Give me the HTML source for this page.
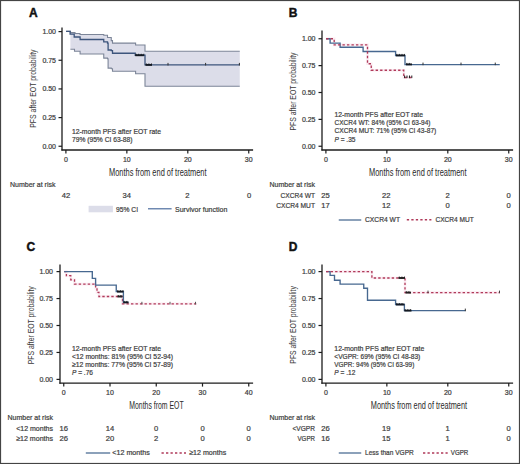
<!DOCTYPE html>
<html><head><meta charset="utf-8"><style>
html,body{margin:0;padding:0;background:#fff;width:520px;height:464px;overflow:hidden}
svg{display:block;font-family:"Liberation Sans", sans-serif}
text.t{stroke:#444;stroke-width:0.22px}
</style></head><body>
<svg width="520" height="464" viewBox="0 0 520 464">
<rect x="0" y="0" width="520" height="464" fill="#fff"/>
<text x="29.00" y="17.40" font-size="12.00" font-weight="bold" fill="#111" stroke="#111" stroke-width="0.45">A</text>
<path d="M70.40 32.60 L70.50 31.40 L70.50 32.60 L75.00 32.60 L75.00 33.50 L80.00 33.50 L80.00 34.50 L103.75 34.50 L103.75 35.20 L107.50 35.20 L107.50 37.50 L111.25 37.50 L111.25 40.60 L112.50 40.60 L112.50 43.10 L135.60 43.10 L135.60 45.00 L145.00 45.00 L145.00 51.25 L239.75 51.25 L239.75 86.25 L145.00 86.25 L145.00 73.75 L135.60 73.75 L135.60 71.25 L112.50 71.25 L112.50 68.75 L111.25 68.75 L111.25 68.10 L108.10 68.10 L108.10 58.75 L107.50 58.75 L107.50 58.10 L103.75 58.10 L103.75 54.00 L80.10 54.00 L80.10 51.30 L74.50 51.30 L74.50 49.20 L70.40 49.20 Z" fill="#dcdde9" stroke="none"/>
<path d="M66.10 31.40 L70.50 31.40 L70.50 32.60 L75.00 32.60 L75.00 33.50 L80.00 33.50 L80.00 34.50 L103.75 34.50 L103.75 35.20 L107.50 35.20 L107.50 37.50 L111.25 37.50 L111.25 40.60 L112.50 40.60 L112.50 43.10 L135.60 43.10 L135.60 45.00 L145.00 45.00 L145.00 51.25 L239.75 51.25" fill="none" stroke="#7c8598" stroke-width="1.1"/>
<path d="M70.40 49.20 L74.50 49.20 L74.50 51.30 L80.10 51.30 L80.10 54.00 L103.75 54.00 L103.75 58.10 L107.50 58.10 L107.50 58.75 L108.10 58.75 L108.10 68.10 L111.25 68.10 L111.25 68.75 L112.50 68.75 L112.50 71.25 L135.60 71.25 L135.60 73.75 L145.00 73.75 L145.00 86.25 L239.75 86.25" fill="none" stroke="#7c8598" stroke-width="1.1"/>
<path d="M66.10 31.40 L70.10 31.40 L70.10 34.20 L74.20 34.20 L74.20 37.00 L80.10 37.00 L80.10 39.50 L103.75 39.50 L103.75 41.90 L107.50 41.90 L107.50 43.10 L108.10 43.10 L108.10 50.00 L111.25 50.00 L111.25 50.60 L112.50 50.60 L112.50 53.25 L135.25 53.25 L135.25 55.25 L145.00 55.25 L145.00 64.90 L239.75 64.90" fill="none" stroke="#3d557c" stroke-width="1.3"/>
<line x1="135.25" y1="55.25" x2="143.90" y2="55.25" stroke="#151a22" stroke-width="1.9"/>
<line x1="136.05" y1="53.75" x2="136.05" y2="55.25" stroke="#151a22" stroke-width="0.8"/>
<line x1="138.65" y1="53.75" x2="138.65" y2="55.25" stroke="#151a22" stroke-width="0.8"/>
<line x1="141.25" y1="53.75" x2="141.25" y2="55.25" stroke="#151a22" stroke-width="0.8"/>
<line x1="143.85" y1="53.75" x2="143.85" y2="55.25" stroke="#151a22" stroke-width="0.8"/>
<line x1="145.50" y1="64.90" x2="152.00" y2="64.90" stroke="#151a22" stroke-width="1.9"/>
<line x1="146.30" y1="63.40" x2="146.30" y2="64.90" stroke="#151a22" stroke-width="0.8"/>
<line x1="148.90" y1="63.40" x2="148.90" y2="64.90" stroke="#151a22" stroke-width="0.8"/>
<line x1="151.50" y1="63.40" x2="151.50" y2="64.90" stroke="#151a22" stroke-width="0.8"/>
<line x1="168.00" y1="62.90" x2="168.00" y2="65.50" stroke="#333" stroke-width="1"/>
<line x1="205.60" y1="62.90" x2="205.60" y2="65.50" stroke="#333" stroke-width="1"/>
<line x1="239.40" y1="62.90" x2="239.40" y2="65.50" stroke="#333" stroke-width="1"/>
<line x1="62.00" y1="27.50" x2="62.00" y2="150.60" stroke="#1c1c1c" stroke-width="1.3"/>
<line x1="61.40" y1="150.00" x2="253.10" y2="150.00" stroke="#1c1c1c" stroke-width="1.3"/>
<line x1="58.50" y1="31.60" x2="62.00" y2="31.60" stroke="#1c1c1c" stroke-width="1.2"/>
<text class="t" x="56.00" y="34.10" font-size="7.00" text-anchor="end" fill="#3a3a3a">1.00</text>
<line x1="58.50" y1="60.26" x2="62.00" y2="60.26" stroke="#1c1c1c" stroke-width="1.2"/>
<text class="t" x="56.00" y="62.76" font-size="7.00" text-anchor="end" fill="#3a3a3a">0.75</text>
<line x1="58.50" y1="88.93" x2="62.00" y2="88.93" stroke="#1c1c1c" stroke-width="1.2"/>
<text class="t" x="56.00" y="91.43" font-size="7.00" text-anchor="end" fill="#3a3a3a">0.50</text>
<line x1="58.50" y1="117.59" x2="62.00" y2="117.59" stroke="#1c1c1c" stroke-width="1.2"/>
<text class="t" x="56.00" y="120.09" font-size="7.00" text-anchor="end" fill="#3a3a3a">0.25</text>
<line x1="58.50" y1="146.25" x2="62.00" y2="146.25" stroke="#1c1c1c" stroke-width="1.2"/>
<text class="t" x="56.00" y="148.75" font-size="7.00" text-anchor="end" fill="#3a3a3a">0.00</text>
<line x1="65.90" y1="150.00" x2="65.90" y2="153.50" stroke="#1c1c1c" stroke-width="1.2"/>
<text class="t" x="65.90" y="161.80" font-size="7.00" text-anchor="middle" fill="#3a3a3a">0</text>
<line x1="126.85" y1="150.00" x2="126.85" y2="153.50" stroke="#1c1c1c" stroke-width="1.2"/>
<text class="t" x="126.85" y="161.80" font-size="7.00" text-anchor="middle" fill="#3a3a3a">10</text>
<line x1="187.80" y1="150.00" x2="187.80" y2="153.50" stroke="#1c1c1c" stroke-width="1.2"/>
<text class="t" x="187.80" y="161.80" font-size="7.00" text-anchor="middle" fill="#3a3a3a">20</text>
<line x1="248.75" y1="150.00" x2="248.75" y2="153.50" stroke="#1c1c1c" stroke-width="1.2"/>
<text class="t" x="248.75" y="161.80" font-size="7.00" text-anchor="middle" fill="#3a3a3a">30</text>
<text transform="translate(32.80 88.60) rotate(-90)" x="0" y="0" font-size="9.8" text-anchor="middle" fill="#3a3a3a" textLength="78.3" lengthAdjust="spacingAndGlyphs" dominant-baseline="central">PFS after EOT probability</text>
<text class="t" x="157.75" y="176.20" font-size="10.00" text-anchor="middle" textLength="97.5" lengthAdjust="spacingAndGlyphs" fill="#2a2a2a" style="stroke:none">Months from end of treatment</text>
<text class="t" x="72.00" y="133.50" font-size="7.60" textLength="89.0" lengthAdjust="spacingAndGlyphs" fill="#3a3a3a">12-month PFS after EOT rate</text>
<text class="t" x="72.00" y="141.80" font-size="7.60" textLength="60.5" lengthAdjust="spacingAndGlyphs" fill="#3a3a3a">79% (95% CI 63-88)</text>
<text class="t" x="10.00" y="186.80" font-size="7.60" textLength="45.5" lengthAdjust="spacingAndGlyphs" fill="#3a3a3a">Number at risk</text>
<text class="t" x="66.00" y="197.50" font-size="7.60" text-anchor="middle" fill="#3a3a3a">42</text>
<text class="t" x="126.70" y="197.50" font-size="7.60" text-anchor="middle" fill="#3a3a3a">34</text>
<text class="t" x="187.30" y="197.50" font-size="7.60" text-anchor="middle" fill="#3a3a3a">2</text>
<text class="t" x="249.00" y="197.50" font-size="7.60" text-anchor="middle" fill="#3a3a3a">0</text>
<rect x="88.6" y="205.8" width="24.3" height="6.5" fill="#dcdde9"/>
<text class="t" x="116.00" y="211.70" font-size="7.60" textLength="22.0" lengthAdjust="spacingAndGlyphs" fill="#3a3a3a">95% CI</text>
<line x1="148" y1="208.8" x2="171.6" y2="208.8" stroke="#45679a" stroke-width="1.15"/>
<text class="t" x="175.00" y="211.50" font-size="7.60" textLength="52.3" lengthAdjust="spacingAndGlyphs" fill="#3a3a3a">Survivor function</text>
<text x="288.75" y="17.40" font-size="12.00" font-weight="bold" fill="#111" stroke="#111" stroke-width="0.45">B</text>
<path d="M326.10 38.75 L334.20 38.75 L334.20 44.90 L367.50 44.90 L367.50 63.75 L371.25 63.75 L371.25 70.25 L403.75 70.25 L403.75 77.50 L412.00 77.50" fill="none" stroke="#fbecf2" stroke-width="2.6"/>
<path d="M326.10 38.75 L330.10 38.75 L330.10 43.10 L340.10 43.10 L340.10 47.25 L363.10 47.25 L363.10 51.50 L395.60 51.50 L395.60 55.60 L405.00 55.60 L405.00 64.60 L499.75 64.60" fill="none" stroke="#476890" stroke-width="1.35"/>
<path d="M326.10 38.75 L334.20 38.75 L334.20 44.90 L367.50 44.90 L367.50 63.75 L371.25 63.75 L371.25 70.25 L403.75 70.25 L403.75 77.50 L412.00 77.50" fill="none" stroke="#b03a5a" stroke-width="1.3" stroke-dasharray="2.4 2.1"/>
<line x1="396.00" y1="55.40" x2="405.00" y2="55.40" stroke="#151a22" stroke-width="1.9"/>
<line x1="396.80" y1="53.90" x2="396.80" y2="55.40" stroke="#151a22" stroke-width="0.8"/>
<line x1="399.40" y1="53.90" x2="399.40" y2="55.40" stroke="#151a22" stroke-width="0.8"/>
<line x1="402.00" y1="53.90" x2="402.00" y2="55.40" stroke="#151a22" stroke-width="0.8"/>
<line x1="404.60" y1="53.90" x2="404.60" y2="55.40" stroke="#151a22" stroke-width="0.8"/>
<line x1="406.00" y1="64.40" x2="412.00" y2="64.40" stroke="#151a22" stroke-width="1.9"/>
<line x1="406.80" y1="62.90" x2="406.80" y2="64.40" stroke="#151a22" stroke-width="0.8"/>
<line x1="409.40" y1="62.90" x2="409.40" y2="64.40" stroke="#151a22" stroke-width="0.8"/>
<line x1="423.00" y1="62.60" x2="423.00" y2="65.20" stroke="#333" stroke-width="1"/>
<line x1="461.00" y1="62.60" x2="461.00" y2="65.20" stroke="#333" stroke-width="1"/>
<line x1="495.25" y1="62.60" x2="495.25" y2="65.20" stroke="#333" stroke-width="1"/>
<line x1="404.60" y1="75.50" x2="404.60" y2="78.10" stroke="#222" stroke-width="1"/>
<line x1="407.00" y1="75.50" x2="407.00" y2="78.10" stroke="#222" stroke-width="1"/>
<line x1="409.50" y1="75.50" x2="409.50" y2="78.10" stroke="#222" stroke-width="1"/>
<line x1="411.80" y1="75.50" x2="411.80" y2="78.10" stroke="#222" stroke-width="1"/>
<line x1="322.00" y1="30.60" x2="322.00" y2="150.60" stroke="#1c1c1c" stroke-width="1.3"/>
<line x1="321.40" y1="150.00" x2="513.10" y2="150.00" stroke="#1c1c1c" stroke-width="1.3"/>
<line x1="318.50" y1="38.75" x2="322.00" y2="38.75" stroke="#1c1c1c" stroke-width="1.2"/>
<text class="t" x="315.50" y="41.25" font-size="7.00" text-anchor="end" fill="#3a3a3a">1.00</text>
<line x1="318.50" y1="65.62" x2="322.00" y2="65.62" stroke="#1c1c1c" stroke-width="1.2"/>
<text class="t" x="315.50" y="68.12" font-size="7.00" text-anchor="end" fill="#3a3a3a">0.75</text>
<line x1="318.50" y1="92.50" x2="322.00" y2="92.50" stroke="#1c1c1c" stroke-width="1.2"/>
<text class="t" x="315.50" y="95.00" font-size="7.00" text-anchor="end" fill="#3a3a3a">0.50</text>
<line x1="318.50" y1="119.38" x2="322.00" y2="119.38" stroke="#1c1c1c" stroke-width="1.2"/>
<text class="t" x="315.50" y="121.88" font-size="7.00" text-anchor="end" fill="#3a3a3a">0.25</text>
<line x1="318.50" y1="146.25" x2="322.00" y2="146.25" stroke="#1c1c1c" stroke-width="1.2"/>
<text class="t" x="315.50" y="148.75" font-size="7.00" text-anchor="end" fill="#3a3a3a">0.00</text>
<line x1="325.90" y1="150.00" x2="325.90" y2="153.50" stroke="#1c1c1c" stroke-width="1.2"/>
<text class="t" x="325.90" y="161.80" font-size="7.00" text-anchor="middle" fill="#3a3a3a">0</text>
<line x1="386.85" y1="150.00" x2="386.85" y2="153.50" stroke="#1c1c1c" stroke-width="1.2"/>
<text class="t" x="386.85" y="161.80" font-size="7.00" text-anchor="middle" fill="#3a3a3a">10</text>
<line x1="447.80" y1="150.00" x2="447.80" y2="153.50" stroke="#1c1c1c" stroke-width="1.2"/>
<text class="t" x="447.80" y="161.80" font-size="7.00" text-anchor="middle" fill="#3a3a3a">20</text>
<line x1="508.75" y1="150.00" x2="508.75" y2="153.50" stroke="#1c1c1c" stroke-width="1.2"/>
<text class="t" x="508.75" y="161.80" font-size="7.00" text-anchor="middle" fill="#3a3a3a">30</text>
<text transform="translate(292.80 91.50) rotate(-90)" x="0" y="0" font-size="9.8" text-anchor="middle" fill="#3a3a3a" textLength="78.0" lengthAdjust="spacingAndGlyphs" dominant-baseline="central">PFS after EOT probability</text>
<text class="t" x="417.75" y="176.20" font-size="10.00" text-anchor="middle" textLength="97.5" lengthAdjust="spacingAndGlyphs" fill="#2a2a2a" style="stroke:none">Months from end of treatment</text>
<text class="t" x="334.50" y="116.90" font-size="7.60" textLength="88.5" lengthAdjust="spacingAndGlyphs" fill="#3a3a3a">12-month PFS after EOT rate</text>
<text class="t" x="334.50" y="125.00" font-size="7.60" textLength="96.0" lengthAdjust="spacingAndGlyphs" fill="#3a3a3a">CXCR4 WT: 84% (95% CI 63-94)</text>
<text class="t" x="334.50" y="133.40" font-size="7.60" textLength="101.8" lengthAdjust="spacingAndGlyphs" fill="#3a3a3a">CXCR4 MUT: 71% (95% CI 43-87)</text>
<text class="t" x="334.5" y="141.7" font-size="7.6" fill="#3a3a3a" textLength="21" lengthAdjust="spacingAndGlyphs"><tspan font-style="italic">P</tspan> = .35</text>
<text class="t" x="269.50" y="187.00" font-size="7.60" textLength="45.5" lengthAdjust="spacingAndGlyphs" fill="#3a3a3a">Number at risk</text>
<text class="t" x="315.00" y="197.50" font-size="7.60" text-anchor="end" textLength="34.5" lengthAdjust="spacingAndGlyphs" fill="#3a3a3a">CXCR4 WT</text>
<text class="t" x="315.00" y="208.30" font-size="7.60" text-anchor="end" textLength="38.8" lengthAdjust="spacingAndGlyphs" fill="#3a3a3a">CXCR4 MUT</text>
<text class="t" x="325.50" y="197.50" font-size="7.60" text-anchor="middle" fill="#3a3a3a">25</text>
<text class="t" x="386.20" y="197.50" font-size="7.60" text-anchor="middle" fill="#3a3a3a">22</text>
<text class="t" x="447.70" y="197.50" font-size="7.60" text-anchor="middle" fill="#3a3a3a">2</text>
<text class="t" x="508.60" y="197.50" font-size="7.60" text-anchor="middle" fill="#3a3a3a">0</text>
<text class="t" x="325.50" y="208.30" font-size="7.60" text-anchor="middle" fill="#3a3a3a">17</text>
<text class="t" x="386.20" y="208.30" font-size="7.60" text-anchor="middle" fill="#3a3a3a">12</text>
<text class="t" x="447.70" y="208.30" font-size="7.60" text-anchor="middle" fill="#3a3a3a">0</text>
<text class="t" x="508.60" y="208.30" font-size="7.60" text-anchor="middle" fill="#3a3a3a">0</text>
<line x1="338.75" y1="220" x2="361.25" y2="220" stroke="#476890" stroke-width="1.25"/>
<text class="t" x="365.00" y="222.10" font-size="7.60" textLength="35.0" lengthAdjust="spacingAndGlyphs" fill="#3a3a3a">CXCR4 WT</text>
<line x1="406.8" y1="219.7" x2="431.4" y2="219.7" stroke="#b03a5a" stroke-width="1.4" stroke-dasharray="2.3 2.2"/>
<text class="t" x="435.40" y="222.10" font-size="7.60" textLength="38.4" lengthAdjust="spacingAndGlyphs" fill="#3a3a3a">CXCR4 MUT</text>
<text x="26.60" y="250.60" font-size="12.00" font-weight="bold" fill="#111" stroke="#111" stroke-width="0.45">C</text>
<path d="M64.20 271.60 L66.40 271.60 L66.40 275.70 L70.75 275.70 L70.75 279.80 L74.50 279.80 L74.50 284.10 L95.60 284.10 L95.60 288.20 L97.00 288.20 L97.00 292.40 L98.90 292.40 L98.90 296.50 L122.50 296.50 L122.50 303.80 L196.25 303.80" fill="none" stroke="#fbecf2" stroke-width="2.6"/>
<path d="M64.20 271.60 L66.40 271.60 L66.40 275.70 L70.75 275.70 L70.75 279.80 L74.50 279.80 L74.50 284.10 L95.60 284.10 L95.60 288.20 L97.00 288.20 L97.00 292.40 L98.90 292.40 L98.90 296.50 L122.50 296.50 L122.50 303.80 L196.25 303.80" fill="none" stroke="#b03a5a" stroke-width="1.3" stroke-dasharray="2.4 2.1"/>
<path d="M64.20 271.60 L92.30 271.60 L92.30 278.30 L95.60 278.30 L95.60 285.10 L116.25 285.10 L116.25 291.60 L123.40 291.60 L123.40 302.40 L128.50 302.40" fill="none" stroke="#476890" stroke-width="1.35"/>
<line x1="117.00" y1="291.60" x2="123.40" y2="291.60" stroke="#151a22" stroke-width="1.9"/>
<line x1="117.80" y1="290.10" x2="117.80" y2="291.60" stroke="#151a22" stroke-width="0.8"/>
<line x1="120.40" y1="290.10" x2="120.40" y2="291.60" stroke="#151a22" stroke-width="0.8"/>
<line x1="123.00" y1="290.10" x2="123.00" y2="291.60" stroke="#151a22" stroke-width="0.8"/>
<line x1="117.50" y1="296.50" x2="122.50" y2="296.50" stroke="#222" stroke-width="1.9"/>
<line x1="118.30" y1="295.00" x2="118.30" y2="296.50" stroke="#222" stroke-width="0.8"/>
<line x1="120.90" y1="295.00" x2="120.90" y2="296.50" stroke="#222" stroke-width="0.8"/>
<line x1="123.40" y1="302.40" x2="128.50" y2="302.40" stroke="#151a22" stroke-width="1.9"/>
<line x1="124.20" y1="300.90" x2="124.20" y2="302.40" stroke="#151a22" stroke-width="0.8"/>
<line x1="126.80" y1="300.90" x2="126.80" y2="302.40" stroke="#151a22" stroke-width="0.8"/>
<line x1="141.90" y1="301.80" x2="141.90" y2="304.40" stroke="#555" stroke-width="1"/>
<line x1="170.00" y1="301.80" x2="170.00" y2="304.40" stroke="#555" stroke-width="1"/>
<line x1="195.50" y1="301.80" x2="195.50" y2="304.40" stroke="#555" stroke-width="1"/>
<line x1="60.00" y1="264.40" x2="60.00" y2="383.70" stroke="#1c1c1c" stroke-width="1.3"/>
<line x1="59.40" y1="383.10" x2="253.10" y2="383.10" stroke="#1c1c1c" stroke-width="1.3"/>
<line x1="56.50" y1="271.60" x2="60.00" y2="271.60" stroke="#1c1c1c" stroke-width="1.2"/>
<text class="t" x="53.00" y="274.10" font-size="7.00" text-anchor="end" fill="#3a3a3a">1.00</text>
<line x1="56.50" y1="298.55" x2="60.00" y2="298.55" stroke="#1c1c1c" stroke-width="1.2"/>
<text class="t" x="53.00" y="301.05" font-size="7.00" text-anchor="end" fill="#3a3a3a">0.75</text>
<line x1="56.50" y1="325.50" x2="60.00" y2="325.50" stroke="#1c1c1c" stroke-width="1.2"/>
<text class="t" x="53.00" y="328.00" font-size="7.00" text-anchor="end" fill="#3a3a3a">0.50</text>
<line x1="56.50" y1="352.45" x2="60.00" y2="352.45" stroke="#1c1c1c" stroke-width="1.2"/>
<text class="t" x="53.00" y="354.95" font-size="7.00" text-anchor="end" fill="#3a3a3a">0.25</text>
<line x1="56.50" y1="379.40" x2="60.00" y2="379.40" stroke="#1c1c1c" stroke-width="1.2"/>
<text class="t" x="53.00" y="381.90" font-size="7.00" text-anchor="end" fill="#3a3a3a">0.00</text>
<line x1="63.75" y1="383.10" x2="63.75" y2="386.60" stroke="#1c1c1c" stroke-width="1.2"/>
<text class="t" x="63.75" y="394.90" font-size="7.00" text-anchor="middle" fill="#3a3a3a">0</text>
<line x1="110.00" y1="383.10" x2="110.00" y2="386.60" stroke="#1c1c1c" stroke-width="1.2"/>
<text class="t" x="110.00" y="394.90" font-size="7.00" text-anchor="middle" fill="#3a3a3a">10</text>
<line x1="156.25" y1="383.10" x2="156.25" y2="386.60" stroke="#1c1c1c" stroke-width="1.2"/>
<text class="t" x="156.25" y="394.90" font-size="7.00" text-anchor="middle" fill="#3a3a3a">20</text>
<line x1="202.50" y1="383.10" x2="202.50" y2="386.60" stroke="#1c1c1c" stroke-width="1.2"/>
<text class="t" x="202.50" y="394.90" font-size="7.00" text-anchor="middle" fill="#3a3a3a">30</text>
<line x1="248.75" y1="383.10" x2="248.75" y2="386.60" stroke="#1c1c1c" stroke-width="1.2"/>
<text class="t" x="248.75" y="394.90" font-size="7.00" text-anchor="middle" fill="#3a3a3a">40</text>
<text transform="translate(30.40 325.20) rotate(-90)" x="0" y="0" font-size="9.8" text-anchor="middle" fill="#3a3a3a" textLength="78.0" lengthAdjust="spacingAndGlyphs" dominant-baseline="central">PFS after EOT probability</text>
<text class="t" x="156.45" y="408.90" font-size="10.00" text-anchor="middle" textLength="54.5" lengthAdjust="spacingAndGlyphs" fill="#2a2a2a" style="stroke:none">Months from EOT</text>
<text class="t" x="72.00" y="350.50" font-size="7.60" textLength="89.0" lengthAdjust="spacingAndGlyphs" fill="#3a3a3a">12-month PFS after EOT rate</text>
<text class="t" x="72.00" y="358.80" font-size="7.60" textLength="101.0" lengthAdjust="spacingAndGlyphs" fill="#3a3a3a">&lt;12 months: 81% (95% CI 52-94)</text>
<text class="t" x="72.00" y="367.00" font-size="7.60" textLength="101.0" lengthAdjust="spacingAndGlyphs" fill="#3a3a3a">&#8805;12 months: 77% (95% CI 57-89)</text>
<text class="t" x="72" y="374.7" font-size="7.6" fill="#3a3a3a" textLength="21" lengthAdjust="spacingAndGlyphs"><tspan font-style="italic">P</tspan> = .76</text>
<text class="t" x="7.50" y="420.00" font-size="7.60" textLength="45.5" lengthAdjust="spacingAndGlyphs" fill="#3a3a3a">Number at risk</text>
<text class="t" x="53.00" y="430.50" font-size="7.60" text-anchor="end" textLength="36.8" lengthAdjust="spacingAndGlyphs" fill="#3a3a3a">&lt;12 months</text>
<text class="t" x="53.00" y="441.20" font-size="7.60" text-anchor="end" textLength="36.8" lengthAdjust="spacingAndGlyphs" fill="#3a3a3a">&#8805;12 months</text>
<text class="t" x="63.75" y="430.50" font-size="7.60" text-anchor="middle" fill="#3a3a3a">16</text>
<text class="t" x="110.00" y="430.50" font-size="7.60" text-anchor="middle" fill="#3a3a3a">14</text>
<text class="t" x="156.00" y="430.50" font-size="7.60" text-anchor="middle" fill="#3a3a3a">0</text>
<text class="t" x="202.50" y="430.50" font-size="7.60" text-anchor="middle" fill="#3a3a3a">0</text>
<text class="t" x="248.60" y="430.50" font-size="7.60" text-anchor="middle" fill="#3a3a3a">0</text>
<text class="t" x="63.75" y="441.20" font-size="7.60" text-anchor="middle" fill="#3a3a3a">26</text>
<text class="t" x="110.00" y="441.20" font-size="7.60" text-anchor="middle" fill="#3a3a3a">20</text>
<text class="t" x="156.00" y="441.20" font-size="7.60" text-anchor="middle" fill="#3a3a3a">2</text>
<text class="t" x="202.50" y="441.20" font-size="7.60" text-anchor="middle" fill="#3a3a3a">0</text>
<text class="t" x="248.60" y="441.20" font-size="7.60" text-anchor="middle" fill="#3a3a3a">0</text>
<line x1="85.8" y1="453" x2="110.2" y2="453" stroke="#476890" stroke-width="1.25"/>
<text class="t" x="112.30" y="455.00" font-size="7.60" textLength="37.5" lengthAdjust="spacingAndGlyphs" fill="#3a3a3a">&lt;12 months</text>
<line x1="161.5" y1="453" x2="186" y2="453" stroke="#b03a5a" stroke-width="1.4" stroke-dasharray="2.3 2.2"/>
<text class="t" x="189.20" y="455.00" font-size="7.60" textLength="37.0" lengthAdjust="spacingAndGlyphs" fill="#3a3a3a">&#8805;12 months</text>
<text x="288.75" y="250.60" font-size="12.00" font-weight="bold" fill="#111" stroke="#111" stroke-width="0.45">D</text>
<path d="M326.10 271.60 L371.90 271.60 L371.90 278.00 L405.00 278.00 L405.00 292.60 L499.75 292.60" fill="none" stroke="#fbecf2" stroke-width="2.6"/>
<path d="M326.10 271.60 L330.10 271.60 L330.10 275.40 L334.50 275.40 L334.50 280.25 L340.10 280.25 L340.10 284.10 L363.75 284.10 L363.75 288.20 L367.50 288.20 L367.50 300.20 L395.60 300.20 L395.60 304.50 L404.40 304.50 L404.40 310.60 L465.60 310.60" fill="none" stroke="#476890" stroke-width="1.35"/>
<path d="M326.10 271.60 L371.90 271.60 L371.90 278.00 L405.00 278.00 L405.00 292.60 L499.75 292.60" fill="none" stroke="#b03a5a" stroke-width="1.3" stroke-dasharray="2.4 2.1"/>
<line x1="396.00" y1="304.50" x2="404.40" y2="304.50" stroke="#151a22" stroke-width="1.9"/>
<line x1="396.80" y1="303.00" x2="396.80" y2="304.50" stroke="#151a22" stroke-width="0.8"/>
<line x1="399.40" y1="303.00" x2="399.40" y2="304.50" stroke="#151a22" stroke-width="0.8"/>
<line x1="402.00" y1="303.00" x2="402.00" y2="304.50" stroke="#151a22" stroke-width="0.8"/>
<line x1="404.40" y1="310.60" x2="411.50" y2="310.60" stroke="#151a22" stroke-width="1.9"/>
<line x1="405.20" y1="309.10" x2="405.20" y2="310.60" stroke="#151a22" stroke-width="0.8"/>
<line x1="407.80" y1="309.10" x2="407.80" y2="310.60" stroke="#151a22" stroke-width="0.8"/>
<line x1="410.40" y1="309.10" x2="410.40" y2="310.60" stroke="#151a22" stroke-width="0.8"/>
<line x1="465.30" y1="308.60" x2="465.30" y2="311.20" stroke="#333" stroke-width="1"/>
<line x1="398.50" y1="278.00" x2="405.00" y2="278.00" stroke="#222" stroke-width="1.9"/>
<line x1="399.30" y1="276.50" x2="399.30" y2="278.00" stroke="#222" stroke-width="0.8"/>
<line x1="401.90" y1="276.50" x2="401.90" y2="278.00" stroke="#222" stroke-width="0.8"/>
<line x1="404.50" y1="276.50" x2="404.50" y2="278.00" stroke="#222" stroke-width="0.8"/>
<line x1="405.50" y1="292.60" x2="411.00" y2="292.60" stroke="#222" stroke-width="1.9"/>
<line x1="406.30" y1="291.10" x2="406.30" y2="292.60" stroke="#222" stroke-width="0.8"/>
<line x1="408.90" y1="291.10" x2="408.90" y2="292.60" stroke="#222" stroke-width="0.8"/>
<line x1="428.00" y1="290.60" x2="428.00" y2="293.20" stroke="#444" stroke-width="1"/>
<line x1="499.50" y1="290.60" x2="499.50" y2="293.20" stroke="#444" stroke-width="1"/>
<line x1="322.00" y1="264.40" x2="322.00" y2="383.70" stroke="#1c1c1c" stroke-width="1.3"/>
<line x1="321.40" y1="383.10" x2="513.10" y2="383.10" stroke="#1c1c1c" stroke-width="1.3"/>
<line x1="318.50" y1="271.60" x2="322.00" y2="271.60" stroke="#1c1c1c" stroke-width="1.2"/>
<text class="t" x="315.50" y="274.10" font-size="7.00" text-anchor="end" fill="#3a3a3a">1.00</text>
<line x1="318.50" y1="298.55" x2="322.00" y2="298.55" stroke="#1c1c1c" stroke-width="1.2"/>
<text class="t" x="315.50" y="301.05" font-size="7.00" text-anchor="end" fill="#3a3a3a">0.75</text>
<line x1="318.50" y1="325.50" x2="322.00" y2="325.50" stroke="#1c1c1c" stroke-width="1.2"/>
<text class="t" x="315.50" y="328.00" font-size="7.00" text-anchor="end" fill="#3a3a3a">0.50</text>
<line x1="318.50" y1="352.45" x2="322.00" y2="352.45" stroke="#1c1c1c" stroke-width="1.2"/>
<text class="t" x="315.50" y="354.95" font-size="7.00" text-anchor="end" fill="#3a3a3a">0.25</text>
<line x1="318.50" y1="379.40" x2="322.00" y2="379.40" stroke="#1c1c1c" stroke-width="1.2"/>
<text class="t" x="315.50" y="381.90" font-size="7.00" text-anchor="end" fill="#3a3a3a">0.00</text>
<line x1="325.90" y1="383.10" x2="325.90" y2="386.60" stroke="#1c1c1c" stroke-width="1.2"/>
<text class="t" x="325.90" y="394.90" font-size="7.00" text-anchor="middle" fill="#3a3a3a">0</text>
<line x1="386.85" y1="383.10" x2="386.85" y2="386.60" stroke="#1c1c1c" stroke-width="1.2"/>
<text class="t" x="386.85" y="394.90" font-size="7.00" text-anchor="middle" fill="#3a3a3a">10</text>
<line x1="447.80" y1="383.10" x2="447.80" y2="386.60" stroke="#1c1c1c" stroke-width="1.2"/>
<text class="t" x="447.80" y="394.90" font-size="7.00" text-anchor="middle" fill="#3a3a3a">20</text>
<line x1="508.75" y1="383.10" x2="508.75" y2="386.60" stroke="#1c1c1c" stroke-width="1.2"/>
<text class="t" x="508.75" y="394.90" font-size="7.00" text-anchor="middle" fill="#3a3a3a">30</text>
<text transform="translate(292.80 324.90) rotate(-90)" x="0" y="0" font-size="9.8" text-anchor="middle" fill="#3a3a3a" textLength="77.5" lengthAdjust="spacingAndGlyphs" dominant-baseline="central">PFS after EOT probability</text>
<text class="t" x="418.90" y="408.90" font-size="10.00" text-anchor="middle" textLength="96.2" lengthAdjust="spacingAndGlyphs" fill="#2a2a2a" style="stroke:none">Months from end of treatment</text>
<text class="t" x="334.30" y="350.50" font-size="7.60" textLength="90.0" lengthAdjust="spacingAndGlyphs" fill="#3a3a3a">12-month PFS after EOT rate</text>
<text class="t" x="334.30" y="358.80" font-size="7.60" textLength="86.0" lengthAdjust="spacingAndGlyphs" fill="#3a3a3a">&lt;VGPR: 69% (95% CI 48-83)</text>
<text class="t" x="334.30" y="367.00" font-size="7.60" textLength="80.0" lengthAdjust="spacingAndGlyphs" fill="#3a3a3a">VGPR: 94% (95% CI 63-99)</text>
<text class="t" x="334.3" y="374.9" font-size="7.6" fill="#3a3a3a" textLength="21" lengthAdjust="spacingAndGlyphs"><tspan font-style="italic">P</tspan> = .12</text>
<text class="t" x="269.50" y="420.00" font-size="7.60" textLength="45.5" lengthAdjust="spacingAndGlyphs" fill="#3a3a3a">Number at risk</text>
<text class="t" x="315.00" y="430.50" font-size="7.60" text-anchor="end" textLength="22.5" lengthAdjust="spacingAndGlyphs" fill="#3a3a3a">&lt;VGPR</text>
<text class="t" x="315.00" y="441.20" font-size="7.60" text-anchor="end" textLength="17.5" lengthAdjust="spacingAndGlyphs" fill="#3a3a3a">VGPR</text>
<text class="t" x="325.50" y="430.50" font-size="7.60" text-anchor="middle" fill="#3a3a3a">26</text>
<text class="t" x="386.20" y="430.50" font-size="7.60" text-anchor="middle" fill="#3a3a3a">19</text>
<text class="t" x="447.70" y="430.50" font-size="7.60" text-anchor="middle" fill="#3a3a3a">1</text>
<text class="t" x="508.60" y="430.50" font-size="7.60" text-anchor="middle" fill="#3a3a3a">0</text>
<text class="t" x="325.50" y="441.20" font-size="7.60" text-anchor="middle" fill="#3a3a3a">16</text>
<text class="t" x="386.20" y="441.20" font-size="7.60" text-anchor="middle" fill="#3a3a3a">15</text>
<text class="t" x="447.70" y="441.20" font-size="7.60" text-anchor="middle" fill="#3a3a3a">1</text>
<text class="t" x="508.60" y="441.20" font-size="7.60" text-anchor="middle" fill="#3a3a3a">0</text>
<line x1="338.75" y1="453" x2="361.25" y2="453" stroke="#476890" stroke-width="1.25"/>
<text class="t" x="365.00" y="455.00" font-size="7.60" textLength="48.8" lengthAdjust="spacingAndGlyphs" fill="#3a3a3a">Less than VGPR</text>
<line x1="423" y1="453" x2="447.7" y2="453" stroke="#b03a5a" stroke-width="1.4" stroke-dasharray="2.3 2.2"/>
<text class="t" x="450.80" y="455.00" font-size="7.60" textLength="17.5" lengthAdjust="spacingAndGlyphs" fill="#3a3a3a">VGPR</text>
<rect x="0.5" y="0.5" width="519" height="463" fill="none" stroke="#444" stroke-width="1.2"/>
</svg></body></html>
